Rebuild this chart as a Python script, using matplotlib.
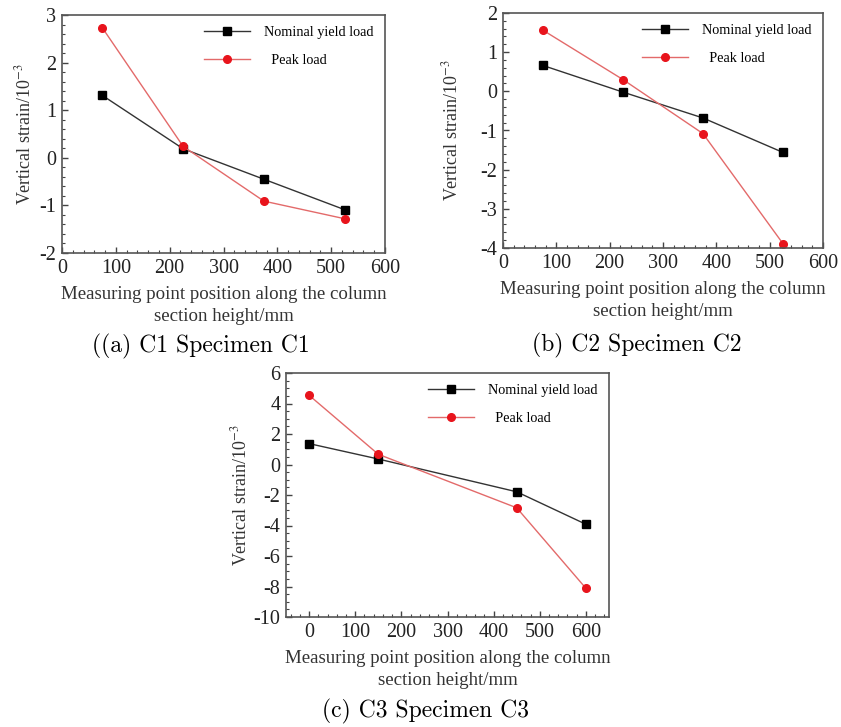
"""Vertical strain along the column section height for specimens C1-C3."""

import matplotlib.pyplot as plt
import matplotlib.ticker as mticker

# Measuring point positions (mm)
pos_c1 = [75, 225, 375, 525]
pos_c2 = [75, 225, 375, 525]
pos_c3 = [0, 150, 450, 600]

# Vertical strain (x10^-3)
yield_c1 = [1.31, 0.19, -0.45, -1.09]
peak_c1 = [2.73, 0.24, -0.91, -1.28]
yield_c2 = [0.66, -0.02, -0.68, -1.56]
peak_c2 = [1.56, 0.30, -1.08, -3.89]
yield_c3 = [1.37, 0.36, -1.79, -3.92]
peak_c3 = [4.54, 0.67, -2.84, -8.12]

captions = ["((a) C1 Specimen C1", "(b) C2 Specimen C2", "(c) C3 Specimen C3"]

plt.rcParams["font.family"] = ["Liberation Serif", "DejaVu Serif"]
plt.rcParams["mathtext.fontset"] = "stix"
plt.rcParams["axes.unicode_minus"] = False

W, H = 841, 727
fig = plt.figure(figsize=(W / 100, H / 100), dpi=100)


def px_axes(x0, y0, x1, y1):
    return fig.add_axes([x0 / W, 1 - y1 / H, (x1 - x0) / W, (y1 - y0) / H])


def draw_panel(ax, x, y_yield, y_peak, xlim, ylim, ystep, yminor, xticks, ypad):
    ax.plot(x, y_yield, color="#333333", lw=1.0, marker="s", ms=5.5,
            mfc="black", mec="black", label="Nominal yield load")
    ax.plot(x, y_peak, color="#e36a6a", lw=1.0, marker="o", ms=5.5,
            mfc="#e8141c", mec="#e8141c", label="  Peak load")
    ax.set_xlim(*xlim)
    ax.set_ylim(*ylim)
    ax.set_xticks(xticks)
    ax.yaxis.set_major_locator(mticker.MultipleLocator(ystep))
    ax.xaxis.set_minor_locator(mticker.AutoMinorLocator(5))
    ax.yaxis.set_minor_locator(mticker.AutoMinorLocator(yminor))
    ax.tick_params(which="both", direction="in", top=False, right=False,
                   colors="#444444", labelcolor="#222222", labelsize=14.5)
    ax.tick_params(which="major", length=4, width=1.0, pad=4)
    ax.tick_params(which="minor", length=2.5, width=0.8)
    for s in ax.spines.values():
        s.set_color("#555555")
        s.set_linewidth(1.2)
    ax.set_xlabel("Measuring point position along the column\nsection height/mm",
                  fontsize=13.6, color="#333333", linespacing=1.4, labelpad=6)
    ax.set_ylabel(r"Vertical strain/10$^{-3}$", fontsize=13, color="#333333",
                  labelpad=ypad)
    ax.legend(loc="upper right", frameon=False, fontsize=10.3, handlelength=3.2,
              handletextpad=1.0, labelspacing=1.05, borderaxespad=0.4)


ax_a = px_axes(62, 15, 385, 253)
draw_panel(ax_a, pos_c1, yield_c1, peak_c1, (0, 600), (-2, 3), 1, 5,
           [0, 100, 200, 300, 400, 500, 600], 4)

ax_b = px_axes(503, 13, 823, 248)
draw_panel(ax_b, pos_c2, yield_c2, peak_c2, (0, 600), (-4, 2), 1, 5,
           [0, 100, 200, 300, 400, 500, 600], 14)

ax_c = px_axes(286, 373, 609, 617)
draw_panel(ax_c, pos_c3, yield_c3, peak_c3, (-50, 650), (-10, 6), 2, 4,
           [0, 100, 200, 300, 400, 500, 600], 2)

cap_kw = dict(fontsize=17, family="cmr10", ha="center", va="center")
fig.text(201 / W, 1 - 346 / H, captions[0], **cap_kw)
fig.text(637 / W, 1 - 345 / H, captions[1], **cap_kw)
fig.text(426 / W, 1 - 711 / H, captions[2], **cap_kw)

fig.savefig("out.png", dpi=100)
